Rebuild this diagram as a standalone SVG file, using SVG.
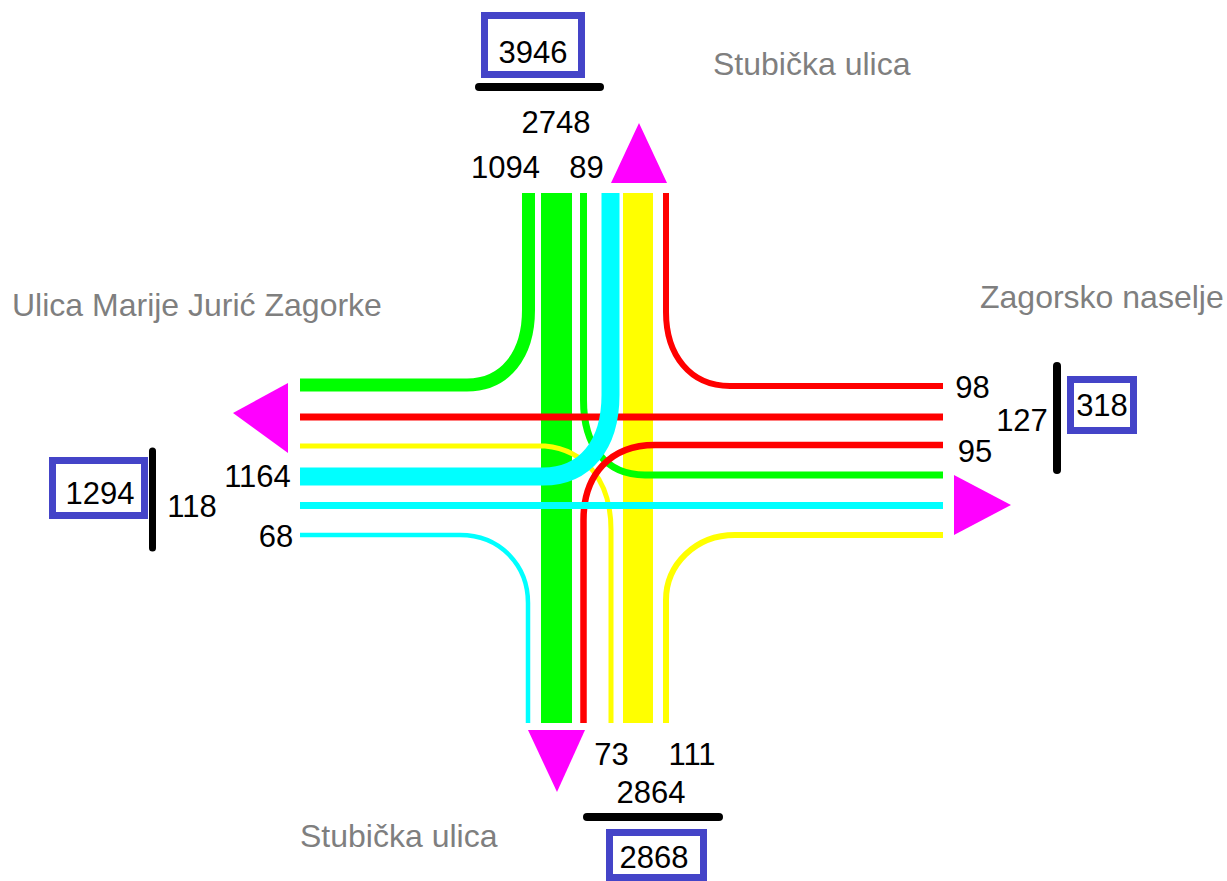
<svg xmlns="http://www.w3.org/2000/svg" width="1227" height="881" viewBox="0 0 1227 881">
<style>
.num{font-family:"Liberation Sans",Arial,sans-serif;font-size:31px;fill:#000;text-anchor:middle}
.street{font-family:"Liberation Sans",Arial,sans-serif;font-size:32px;fill:#7f7f7f}
.box{fill:#fff;stroke:#4444c8;stroke-width:7}
.bar{stroke:#000;stroke-width:8;stroke-linecap:round;fill:none}
.lane{fill:none;stroke-linecap:butt}
.g{stroke:#00ff00}.r{stroke:#ff0000}.y{stroke:#ffff00}.c{stroke:#00ffff}
.arrow{fill:#ff00ff}
</style>
<rect width="1227" height="881" fill="#fff"/>
<g id="connectors">
  <line class="lane g" x1="556.5" y1="193" x2="556.5" y2="723" stroke-width="31"/>
  <line class="lane y" x1="638" y1="193" x2="638" y2="723" stroke-width="30"/>
  <path class="lane g" d="M583.5,193 V400 C583.5,445 605,475 645,475 H943" stroke-width="7"/>
  <path class="lane y" d="M300,446 H545 C585,450 611,480 611,530 V723" stroke-width="5"/>
  <path class="lane r" d="M943,445 H655 C610,445 583.5,475 583.5,520 V723" stroke-width="6.5"/>
  <path class="lane r" d="M666,193 V312 C666,355 690,386 730,386 H943" stroke-width="6"/>
  <line class="lane r" x1="300" y1="417" x2="943" y2="417" stroke-width="7"/>
  <path class="lane g" d="M528.5,193 V310 C528.5,355 505,385 467,385 H300" stroke-width="13"/>
  <path class="lane y" d="M943,535 H735 C695,535 666,565 666,600 V723" stroke-width="6"/>
  <path class="lane c" d="M300,535 H460 C500,535 528,565 528,603 V723" stroke-width="4.5"/>
  <path class="lane c" d="M610.5,193 V395 C610.5,445 585,476.5 543,476.5 H300" stroke-width="18"/>
  <line class="lane c" x1="300" y1="505.5" x2="943" y2="505.5" stroke-width="7"/>
</g>
<g id="arrow-north"><polygon class="arrow" points="639,123 667,183 611,183"/></g>
<g id="arrow-west"><polygon class="arrow" points="233,413 288,383 288,453"/></g>
<g id="arrow-east"><polygon class="arrow" points="1011,505 954,475 954,535"/></g>
<g id="arrow-south"><polygon class="arrow" points="557,792 528,730 585,730"/></g>
<g id="north-node">
  <rect class="box" x="484.5" y="15.5" width="97" height="59"/>
  <text class="num" x="533" y="63">3946</text>
  <line class="bar" x1="479" y1="87" x2="600" y2="87"/>
  <text class="num" x="556" y="133">2748</text>
  <text class="num" x="505.5" y="178">1094</text>
  <text class="num" x="586.5" y="178">89</text>
  <text class="street" x="713" y="75">Stubička ulica</text>
</g>
<g id="west-node">
  <text class="street" x="12" y="316">Ulica Marije Jurić Zagorke</text>
  <rect class="box" x="52.5" y="460.5" width="92" height="55"/>
  <text class="num" x="100" y="504">1294</text>
  <line class="bar" x1="152.5" y1="451" x2="152.5" y2="548" style="stroke-width:7"/>
  <text class="num" x="192" y="517">118</text>
  <text class="num" x="257.5" y="487">1164</text>
  <text class="num" x="276" y="547">68</text>
</g>
<g id="east-node">
  <text class="street" x="980" y="308">Zagorsko naselje</text>
  <text class="num" x="972.5" y="398">98</text>
  <text class="num" x="1022" y="431">127</text>
  <text class="num" x="975" y="462">95</text>
  <line class="bar" x1="1057" y1="366" x2="1057" y2="470"/>
  <rect class="box" x="1070.5" y="379.5" width="63" height="51"/>
  <text class="num" x="1102" y="416">318</text>
</g>
<g id="south-node">
  <text class="num" x="611.5" y="765">73</text>
  <text class="num" x="692" y="765">111</text>
  <text class="num" x="651" y="803">2864</text>
  <line class="bar" x1="587" y1="817" x2="719" y2="817"/>
  <rect class="box" x="609.5" y="832.5" width="94" height="45"/>
  <text class="num" x="654" y="868">2868</text>
  <text class="street" x="300" y="847">Stubička ulica</text>
</g>
</svg>
